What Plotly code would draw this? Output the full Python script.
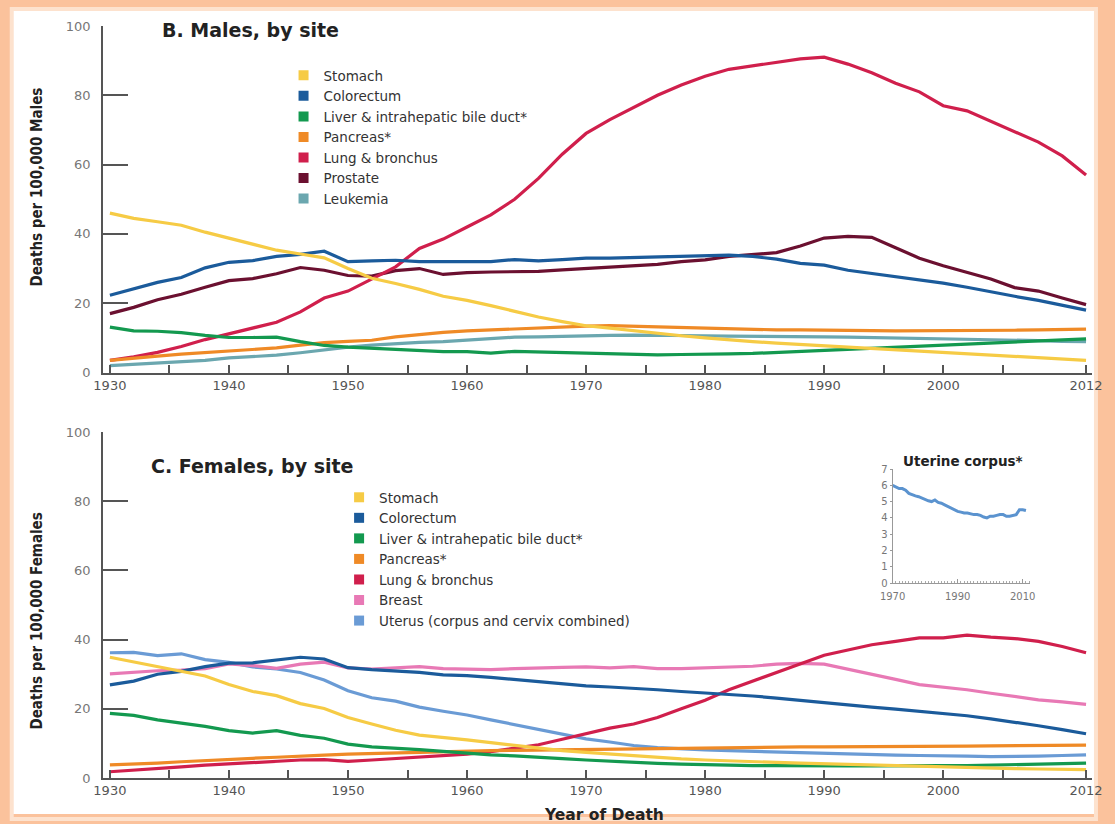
import plotly.graph_objects as go

# ---- data: death rates per 100,000, age adjusted ----
years = list(range(1930, 2013, 2))

male_stomach = [46, 44.5, 43.5, 42.5, 40.5, 38.7, 37, 35.3, 34.2, 33.1, 30, 27.2, 25.7, 24, 22,
                20.8, 19.3, 17.7, 16, 14.7, 13.5, 12.8, 12, 11.3, 10.6, 10, 9.4, 8.9, 8.5, 8.1,
                7.9, 7.4, 7.0, 6.5, 6.1, 5.7, 5.3, 5.0, 4.6, 4.2, 3.8, 3.5]
male_colorectum = [22.3, 24.2, 26, 27.4, 30.2, 31.8, 32.3, 33.5, 34.1, 35, 32, 32.2, 32.4, 32, 32,
                   32, 32, 32.6, 32.2, 32.6, 33, 33, 33.2, 33.2, 33.6, 33.8, 33.9, 33.5, 32.7, 31.5,
                   31, 29.5, 28.6, 27.6, 26.8, 25.8, 24.6, 23.2, 22, 20.8, 19.5, 18]
male_liver = [13.1, 12, 11.9, 11.5, 10.7, 10.1, 10.1, 10.2, 8.9, 7.8, 7.3, 7, 6.6, 6.4, 6.0,
              6.0, 5.6, 6.1, 5.9, 5.7, 5.5, 5.3, 5.2, 5.1, 5.2, 5.2, 5.4, 5.5, 5.8, 6.0,
              6.3, 6.6, 6.9, 7.2, 7.6, 8.0, 8.3, 8.6, 8.9, 9.2, 9.5, 9.7]
male_pancreas = [3.5, 4.0, 4.7, 5.3, 5.7, 6.2, 6.6, 7.1, 7.9, 8.6, 9.0, 9.3, 10.3, 11.0, 11.6,
                 12.0, 12.3, 12.6, 13.0, 13.3, 13.4, 13.5, 13.3, 13.2, 12.9, 12.7, 12.5, 12.4, 12.3, 12.3,
                 12.3, 12.2, 12.1, 12.0, 12.0, 12.0, 12.1, 12.1, 12.2, 12.3, 12.4, 12.5]
male_lung = [3.5, 4.5, 5.8, 7.5, 9.5, 11.2, 12.8, 14.5, 17.5, 21.5, 23.5, 27, 30.5, 35.8, 38.5,
             42, 45.5, 50, 56, 63, 69, 73, 76.5, 80, 83, 85.5, 87.5, 88.5, 89.5, 90.5,
             91, 89, 86.5, 83.5, 81, 77, 75.5, 72.5, 69.5, 66.5, 62.5, 57]
male_prostate = [17, 18.8, 21, 22.6, 24.6, 26.5, 27.1, 28.5, 30.3, 29.5, 28, 27.8, 29.4, 30, 28.3,
                 28.8, 29, 29, 29.2, 29.6, 30, 30.6, 31, 31.2, 32, 32.5, 33.5, 34, 34.6, 36.5,
                 38.8, 39.3, 39, 36, 33, 30.8, 29, 27, 24.5, 23.5, 21.5, 19.6]
male_leukemia = [2, 2.4, 2.8, 3.2, 3.5, 4.2, 4.6, 5.0, 5.7, 6.6, 7.3, 7.9, 8.4, 8.7, 8.9,
                 9.3, 9.8, 10.2, 10.3, 10.5, 10.6, 10.7, 10.8, 10.8, 10.7, 10.6, 10.5, 10.5, 10.4, 10.3,
                 10.3, 10.2, 10.1, 10.0, 9.9, 9.8, 9.6, 9.4, 9.3, 9.2, 9.0, 8.9]

female_stomach = [34.9, 33.5, 32.3, 30.7, 29.5, 27, 25, 23.8, 21.5, 20.1, 17.5, 15.6, 13.8, 12.4, 11.8,
                  11, 10.2, 9.4, 8.6, 7.9, 7.4, 6.9, 6.3, 5.9, 5.5, 5.2, 4.9, 4.7, 4.5, 4.3,
                  4.1, 3.9, 3.7, 3.5, 3.3, 3.1, 2.9, 2.8, 2.7, 2.6, 2.5, 2.4]
female_colorectum = [26.9, 28, 30, 30.8, 32.2, 33.2, 33.3, 34.2, 34.9, 34.4, 31.9, 31.3, 31, 30.5, 29.8,
                     29.6, 29.1, 28.5, 27.9, 27.2, 26.6, 26.3, 26.0, 25.5, 25.0, 24.6, 24.1, 23.7, 23.1, 22.4,
                     21.7, 21.1, 20.5, 19.9, 19.3, 18.8, 18.0, 17.1, 16.2, 15.1, 14.0, 12.8]
female_liver = [18.7, 18.1, 16.8, 15.9, 14.9, 13.7, 13.0, 13.7, 12.3, 11.5, 9.8, 9.0, 8.7, 8.2, 7.7,
                7.1, 6.7, 6.4, 6.1, 5.6, 5.2, 4.8, 4.5, 4.2, 4.0, 3.8, 3.7, 3.6, 3.6, 3.5,
                3.5, 3.5, 3.5, 3.6, 3.6, 3.6, 3.6, 3.7, 3.8, 3.9, 4.1, 4.3]
female_pancreas = [3.8, 4.0, 4.3, 4.7, 5.1, 5.4, 5.7, 6.0, 6.4, 6.6, 6.9, 7.1, 7.3, 7.5, 7.6,
                   7.8, 7.9, 8.0, 8.1, 8.2, 8.3, 8.4, 8.5, 8.6, 8.7, 8.8, 8.9, 8.9, 9.0, 9.0,
                   9.0, 9.0, 9.0, 9.0, 9.1, 9.1, 9.2, 9.3, 9.3, 9.4, 9.4, 9.5]
female_lung = [1.8, 2.2, 2.7, 3.2, 3.7, 4.1, 4.5, 4.8, 5.2, 5.3, 4.8, 5.2, 5.6, 6.0, 6.4,
               6.9, 7.6, 8.5, 9.6, 11.2, 12.8, 14.4, 15.6, 17.5, 20, 22.5, 25.5, 28, 30.5, 33,
               35.5, 37, 38.5, 39.5, 40.5, 40.5, 41.3, 40.7, 40.3, 39.5, 38, 36.2]
female_breast = [30.1, 30.6, 31, 31.2, 31.6, 33, 32.5, 31.7, 32.9, 33.5, 31.8, 31.5, 31.8, 32.2, 31.6,
                 31.5, 31.3, 31.6, 31.9, 32.0, 32.1, 31.8, 32.2, 31.6, 31.6, 31.8, 32.0, 32.3, 32.9, 33.1,
                 32.9, 31.5, 30, 28.5, 27, 26.3, 25.5, 24.5, 23.6, 22.6, 22, 21.3]
female_uterus = [36.2, 36.3, 35.4, 35.9, 34.2, 33.4, 32.1, 31.5, 30.5, 28.3, 25.2, 23.2, 22.2, 20.5, 19.3,
                 18.2, 16.8, 15.4, 13.9, 12.6, 11.3, 10.4, 9.4, 8.8, 8.4, 8.1, 7.9, 7.7, 7.5, 7.2,
                 7.0, 6.8, 6.7, 6.6, 6.5, 6.3, 6.3, 6.2, 6.2, 6.3, 6.5, 6.7]

corpus_years = list(range(1970, 2012))
corpus_rate = [6.0, 5.9, 5.8, 5.8, 5.7, 5.5, 5.4, 5.35, 5.3, 5.2, 5.15, 5.05, 5.0, 5.1, 4.95,
               4.9, 4.8, 4.7, 4.6, 4.45, 4.4, 4.35, 4.3, 4.3, 4.25, 4.2, 4.2, 4.15, 4.05, 4.0,
               4.1, 4.1, 4.15, 4.2, 4.2, 4.1, 4.1, 4.15, 4.2, 4.5, 4.5, 4.45]

x_tickvals = [1930, 1935, 1940, 1945, 1950, 1955, 1960, 1965, 1970, 1975, 1980, 1985,
              1990, 1995, 2000, 2005, 2012]
x_ticktext = ["1930", "", "1940", "", "1950", "", "1960", "", "1970", "", "1980", "",
              "1990", "", "2000", "", "2012"]
y_tickvals = [0, 20, 40, 60, 80, 100]

# ---- colours ----
C = {
    "Stomach": "#F6CB45",
    "Colorectum": "#1B5B9B",
    "Liver & intrahepatic bile duct*": "#13994F",
    "Pancreas*": "#EF8A26",
    "Lung & bronchus": "#D01F4C",
    "Prostate": "#6B1030",
    "Leukemia": "#6BA7AF",
    "Breast": "#E879B5",
    "Uterus (corpus and cervix combined)": "#6A9BD5",
}

male_series = [
    ("Stomach", male_stomach),
    ("Colorectum", male_colorectum),
    ("Liver & intrahepatic bile duct*", male_liver),
    ("Pancreas*", male_pancreas),
    ("Lung & bronchus", male_lung),
    ("Prostate", male_prostate),
    ("Leukemia", male_leukemia),
]
female_series = [
    ("Stomach", female_stomach),
    ("Colorectum", female_colorectum),
    ("Liver & intrahepatic bile duct*", female_liver),
    ("Pancreas*", female_pancreas),
    ("Lung & bronchus", female_lung),
    ("Breast", female_breast),
    ("Uterus (corpus and cervix combined)", female_uterus),
]

fig = go.Figure()

# lines are drawn in reverse so that the first legend entries sit on top
for name, vals in reversed(male_series):
    fig.add_trace(go.Scatter(x=years, y=vals, mode="lines", name=name, showlegend=False,
                             line=dict(color=C[name], width=3.2), xaxis="x", yaxis="y"))
for name, vals in reversed(female_series):
    fig.add_trace(go.Scatter(x=years, y=vals, mode="lines", name=name, showlegend=False,
                             line=dict(color=C[name], width=3.2), xaxis="x2", yaxis="y2"))

# square swatches for the two legends
for name, _ in male_series:
    fig.add_trace(go.Scatter(x=[None], y=[None], mode="markers", name=name, legend="legend",
                             marker=dict(symbol="square", size=10, color=C[name]),
                             xaxis="x", yaxis="y"))
for name, _ in female_series:
    fig.add_trace(go.Scatter(x=[None], y=[None], mode="markers", name=name, legend="legend2",
                             marker=dict(symbol="square", size=10, color=C[name]),
                             xaxis="x2", yaxis="y2"))

# inset: uterine corpus
fig.add_trace(go.Scatter(x=corpus_years, y=corpus_rate, mode="lines", showlegend=False,
                         line=dict(color="#5B93CF", width=3), xaxis="x3", yaxis="y3"))

W, H = 1115, 824
ML, MR, MT, MB = 103, 15, 26, 46
PW, PH = W - ML - MR, H - MT - MB


def px(xp):
    return (xp - ML) / PW


def py(yp):
    return (H - MB - yp) / PH


body_family = "DejaVu Sans, Verdana, sans-serif"
tick_font = dict(family=body_family, size=13, color="#555")
axis_common = dict(showgrid=False, zeroline=False, showline=True, linecolor="#555",
                   linewidth=1.5, ticks="inside", tickcolor="#555", tickwidth=1.5)

xaxis_common = dict(axis_common, range=[1929.42, 2012.5], tickmode="array",
                    tickvals=x_tickvals, ticktext=x_ticktext, ticklen=8, tickfont=tick_font)
yaxis_common = dict(axis_common, range=[0, 100], tickmode="array", tickvals=y_tickvals,
                    ticklen=25, tickfont=dict(tick_font, color="#777"), ticklabelstandoff=8)

inset_font = dict(family=body_family, size=10, color="#777")
legend_font = dict(family=body_family, size=13.5, color="#333")

fig.update_layout(
    width=W, height=H,
    margin=dict(l=ML, r=MR, t=MT, b=MB),
    paper_bgcolor="white", plot_bgcolor="white",
    xaxis=dict(xaxis_common, domain=[0, 1], anchor="y"),
    yaxis=dict(yaxis_common, domain=[py(372.5), 1], anchor="x"),
    xaxis2=dict(xaxis_common, domain=[0, 1], anchor="y2"),
    yaxis2=dict(yaxis_common, domain=[0, py(432)], anchor="x2"),
    xaxis3=dict(domain=[px(899), px(1038)], anchor="y3", range=[1970, 2012.4],
                showgrid=False, zeroline=False, showline=True, linecolor="#999", linewidth=1,
                tickmode="linear", tick0=1970, dtick=20, ticks="inside", ticklen=4,
                tickcolor="#999", tickfont=inset_font, ticklabelstandoff=4,
                minor=dict(dtick=1, ticks="inside", ticklen=2, tickcolor="#aaa")),
    yaxis3=dict(domain=[py(583), py(469)], anchor="x3", range=[0, 7],
                showgrid=False, zeroline=False, showline=True, linecolor="#999", linewidth=1,
                tickmode="linear", tick0=0, dtick=1, ticks="outside", ticklen=2,
                tickcolor="#999", tickfont=inset_font),
    legend=dict(x=px(285), y=py(60), xanchor="left", yanchor="top",
                bgcolor="rgba(0,0,0,0)", tracegroupgap=0, font=legend_font),
    legend2=dict(x=px(341), y=py(482), xanchor="left", yanchor="top",
                 bgcolor="rgba(0,0,0,0)", tracegroupgap=0, font=legend_font),
)

title_font = dict(family="DejaVu Sans, Verdana, sans-serif", size=19, color="#222")
narrow_font = dict(family="DejaVu Sans Condensed, Liberation Sans Narrow, sans-serif",
                   size=15, color="#222")

fig.add_annotation(text="<b>B. Males, by site</b>", xref="paper", yref="paper",
                   x=px(160), y=py(30), xanchor="left", yanchor="middle",
                   showarrow=False, font=title_font)
fig.add_annotation(text="<b>C. Females, by site</b>", xref="paper", yref="paper",
                   x=px(149), y=py(466), xanchor="left", yanchor="middle",
                   showarrow=False, font=title_font)
fig.add_annotation(text="<b>Deaths per 100,000 Males</b>", xref="paper", yref="paper",
                   x=px(36), y=py(187), textangle=-90, xanchor="center", yanchor="middle",
                   showarrow=False, font=narrow_font)
fig.add_annotation(text="<b>Deaths per 100,000 Females</b>", xref="paper", yref="paper",
                   x=px(36), y=py(621), textangle=-90, xanchor="center", yanchor="middle",
                   showarrow=False, font=narrow_font)
fig.add_annotation(text="<b>Year of Death</b>", xref="paper", yref="paper",
                   x=px(608), y=py(815), xanchor="center", yanchor="middle",
                   showarrow=False, font=dict(title_font, size=15.5))
fig.add_annotation(text="<b>Uterine corpus*</b>", xref="paper", yref="paper",
                   x=px(907), y=py(461), xanchor="left", yanchor="middle",
                   showarrow=False, font=dict(title_font, size=13.5))

# peach frame around the page
fig.add_shape(type="rect", xref="paper", yref="paper",
              x0=px(0), x1=px(W), y0=py(H), y1=py(0),
              line=dict(color="#FBC29C", width=20), fillcolor="rgba(0,0,0,0)", layer="below")
fig.add_shape(type="rect", xref="paper", yref="paper",
              x0=px(11), x1=px(W - 11), y0=py(H - 5), y1=py(9),
              line=dict(color="#FDE2CE", width=4), fillcolor="rgba(0,0,0,0)", layer="below")

fig.write_html("out.html")
